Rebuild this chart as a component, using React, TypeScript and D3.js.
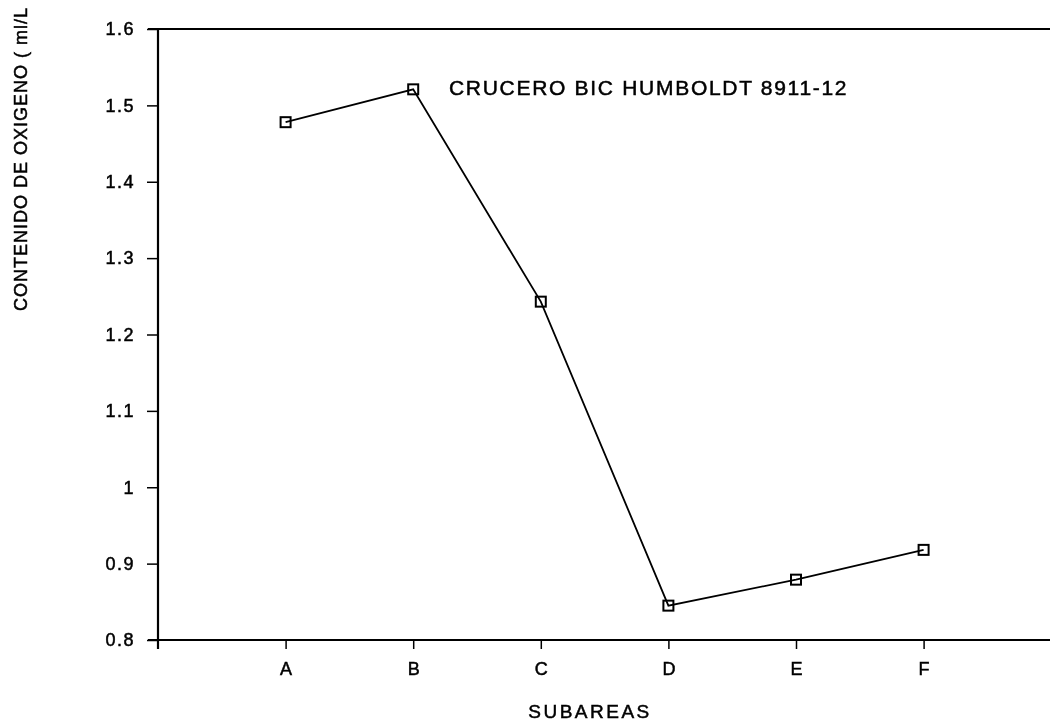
import React, { useEffect, useRef } from 'react';
import * as d3 from 'd3';

const subareas = ['A', 'B', 'C', 'D', 'E', 'F'];
const oxygen = [1.478, 1.521, 1.243, 0.845, 0.879, 0.918];
const yTicks = [0.8, 0.9, 1.0, 1.1, 1.2, 1.3, 1.4, 1.5, 1.6];

const title = 'CRUCERO BIC HUMBOLDT 8911-12';
const yTitle = 'CONTENIDO DE OXIGENO ( ml/L';
const xTitle = 'SUBAREAS';

function OxygenChart() {
  const ref = useRef<SVGSVGElement>(null);

  useEffect(() => {
    const svg = d3.select(ref.current);
    svg.selectAll('*').remove();

    const width = 1050;
    const height = 724;
    const margin = { top: 29, right: 0, bottom: 84, left: 158 };
    const font = '"Liberation Sans", Arial, sans-serif';

    svg
      .attr('width', width)
      .attr('height', height)
      .style('position', 'fixed')
      .style('left', 0)
      .style('top', 0);

    const x = d3
      .scaleLinear()
      .domain([0, 7])
      .range([margin.left, margin.left + 7 * 127.6]);

    const y = d3
      .scaleLinear()
      .domain([0.8, 1.6])
      .range([height - margin.bottom, margin.top]);

    // top frame line
    svg
      .append('line')
      .attr('x1', margin.left - 10)
      .attr('x2', width)
      .attr('y1', y(1.6))
      .attr('y2', y(1.6))
      .attr('stroke', '#000')
      .attr('stroke-width', 1.8);

    // y axis
    const yAxis = svg
      .append('g')
      .attr('transform', `translate(${margin.left},0)`)
      .call(
        d3
          .axisLeft(y)
          .tickValues(yTicks)
          .tickSize(11)
          .tickPadding(12)
          .tickFormat((d) => d3.format('')(+(+d).toFixed(1)))
      );
    yAxis.select('.domain').remove();
    yAxis.selectAll('.tick line').attr('stroke-width', 1.5);
    yAxis
      .selectAll('.tick text')
      .attr('font-family', font)
      .attr('font-size', 18)
      .attr('letter-spacing', 1.5)
      .attr('stroke', '#000')
      .attr('stroke-width', 0.5)
      .attr('fill', '#000');

    svg
      .append('line')
      .attr('x1', margin.left)
      .attr('x2', margin.left)
      .attr('y1', y(1.6))
      .attr('y2', y(0.8) + 9)
      .attr('stroke', '#000')
      .attr('stroke-width', 2.2);

    // x axis
    const xAxis = svg
      .append('g')
      .attr('transform', `translate(0,${y(0.8)})`)
      .call(
        d3
          .axisBottom(x)
          .tickValues(d3.range(1, subareas.length + 1))
          .tickSize(9)
          .tickPadding(13)
          .tickFormat((d) => subareas[+d - 1])
      );
    xAxis.select('.domain').remove();
    xAxis.selectAll('.tick line').attr('stroke-width', 1.5);
    xAxis
      .selectAll('.tick text')
      .attr('font-family', font)
      .attr('font-size', 18)
      .attr('stroke', '#000')
      .attr('stroke-width', 0.5)
      .attr('fill', '#000');

    svg
      .append('line')
      .attr('x1', margin.left - 10)
      .attr('x2', width)
      .attr('y1', y(0.8))
      .attr('y2', y(0.8))
      .attr('stroke', '#000')
      .attr('stroke-width', 2);

    // series line
    const line = d3
      .line<number>()
      .x((_, i) => x(i + 1))
      .y((d) => y(d));

    svg
      .append('path')
      .datum(oxygen)
      .attr('d', line)
      .attr('fill', 'none')
      .attr('stroke', '#000')
      .attr('stroke-width', 1.8);

    svg
      .append('g')
      .selectAll('rect')
      .data(oxygen)
      .join('rect')
      .attr('x', (_, i) => x(i + 1) - 5)
      .attr('y', (d) => y(d) - 5)
      .attr('width', 10)
      .attr('height', 10)
      .attr('fill', 'none')
      .attr('stroke', '#000')
      .attr('stroke-width', 2);

    // texts
    const label = (sel: d3.Selection<SVGTextElement, unknown, null, undefined>) =>
      sel
        .attr('font-family', font)
        .attr('fill', '#000')
        .attr('stroke', '#000')
        .attr('stroke-width', 0.5);

    svg
      .append('text')
      .attr('x', 449)
      .attr('y', 95)
      .attr('font-size', 21)
      .attr('letter-spacing', 1.7)
      .call(label)
      .text(title);

    svg
      .append('text')
      .attr('transform', `translate(27,159) rotate(-90)`)
      .attr('text-anchor', 'middle')
      .attr('font-size', 18)
      .attr('letter-spacing', 1)
      .call(label)
      .text(yTitle);

    svg
      .append('text')
      .attr('x', 590)
      .attr('y', 718)
      .attr('text-anchor', 'middle')
      .attr('font-size', 19)
      .attr('letter-spacing', 2.5)
      .call(label)
      .text(xTitle);
  }, []);

  return <svg ref={ref}></svg>;
}

export default function App() {
  return <OxygenChart />;
}
